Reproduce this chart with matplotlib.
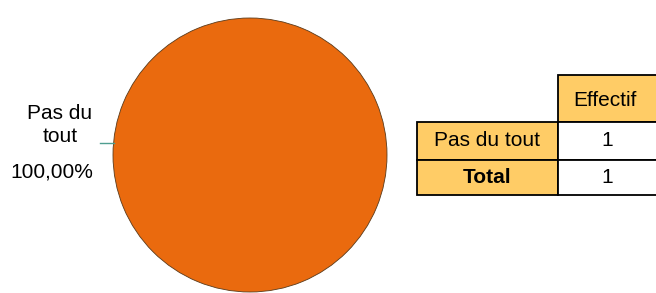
import matplotlib
matplotlib.use("Agg")
from matplotlib import pyplot as plt
from matplotlib.patches import Rectangle

plt.rcParams['font.family'] = ['Liberation Sans', 'DejaVu Sans']

categories = ['Pas du tout']
values = [1]
percent_labels = ['100,00%']
table_header = 'Effectif'
row_labels = ['Pas du tout', 'Total']
row_values = [1, 1]

pie_color = '#EA6A0E'
cell_color = '#FFCC66'

fig = plt.figure(figsize=(6.56, 2.93), dpi=100)
ax = fig.add_axes([0, 0, 1, 1])

# pie
ax.pie(values, colors=[pie_color], center=(250, 155), radius=137,
       wedgeprops=dict(edgecolor='#5a3a1a', linewidth=0.6), startangle=90,
       frame=True)

# pie() resets the limits, so set them afterwards
ax.set_xlim(0, 656)
ax.set_ylim(293, 0)
ax.set_aspect('equal')
ax.axis('off')

# label + leader line
ax.plot([100, 114], [143, 143], color='#4f9e90', lw=1.0, zorder=5)
ax.text(60, 125, categories[0].replace('du ', 'du\n'), ha='center',
        va='center', fontsize=15, linespacing=1.25)
ax.text(52, 172, percent_labels[0], ha='center', va='center', fontsize=15)

# table
x0, x1, x2 = 417, 558, 660
yh, y0 = 75, 122
row_h = [38, 35]
ax.add_patch(Rectangle((x1, yh), x2 - x1, y0 - yh, facecolor=cell_color,
                       edgecolor='black', lw=1.3))
ax.text((x1 + x2) / 2 - 4, (yh + y0) / 2 + 2, table_header, ha='center',
        va='center', fontsize=15)
y = y0
for i, (lab, val) in enumerate(zip(row_labels, row_values)):
    h = row_h[i]
    ax.add_patch(Rectangle((x0, y), x1 - x0, h, facecolor=cell_color,
                           edgecolor='black', lw=1.3))
    ax.add_patch(Rectangle((x1, y), x2 - x1, h, facecolor='white',
                           edgecolor='black', lw=1.3))
    ax.text((x0 + x1) / 2, y + h / 2, lab, ha='center', va='center',
            fontsize=15, fontweight='bold' if lab == 'Total' else 'normal')
    ax.text((x1 + x2) / 2 - 2, y + h / 2, str(val), ha='center', va='center',
            fontsize=15)
    y += h

fig.savefig('out.png', dpi=100)
